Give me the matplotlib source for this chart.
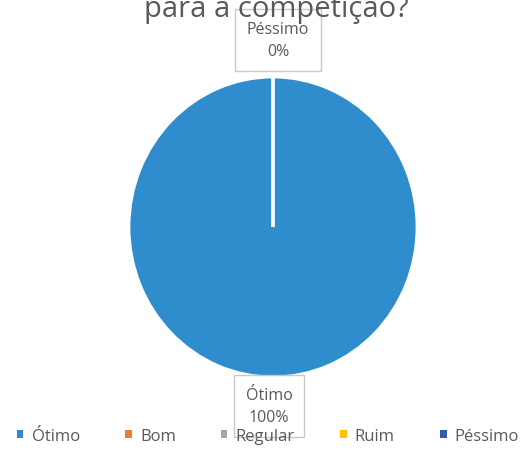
import matplotlib
matplotlib.use("Agg")
import matplotlib.pyplot as plt
from matplotlib.patches import Patch

categories = ["Ótimo", "Bom", "Regular", "Ruim", "Péssimo"]
values = [100, 0, 0, 0, 0]
colors = ["#2f8dcd", "#ed7d31", "#a5a5a5", "#ffc000", "#2f5fa8"]
title = "para a competição?"

plt.rcParams['font.family'] = ['Open Sans', 'DejaVu Sans']
W, H = 531, 464
fig = plt.figure(figsize=(W / 100, H / 100), dpi=100)
fig.patch.set_facecolor("white")

cx, cy, rx, ry = 273, 228, 144, 150
ax = fig.add_axes([(cx - rx) / W, (H - cy - ry) / H, 2 * rx / W, 2 * ry / H])
wedges, _ = ax.pie(values, colors=colors, startangle=90, counterclock=False,
                   radius=1, wedgeprops=dict(edgecolor="white", linewidth=2))
ax.set_xlim(-1, 1)
ax.set_ylim(-1, 1)
ax.set_aspect("auto")
ax.axis("off")

total = sum(values)
box = dict(boxstyle="square,pad=0.75", facecolor="white", edgecolor="#c8c8c8", linewidth=1)
# Péssimo label (top)
fig.text(278 / W, 1 - 41 / H, f"{categories[4]}\n{values[4] / total * 100:.0f}%",
         ha="center", va="center", fontsize=11.5, color="#595959",
         linespacing=1.55, bbox=box)
# Ótimo label (bottom)
fig.text(269 / W, 1 - 407 / H, f"{categories[0]}\n{values[0] / total * 100:.0f}%",
         ha="center", va="center", fontsize=11.5, color="#595959",
         linespacing=1.55, bbox=box)

fig.text(276 / W, 1 - 10 / H, title, ha="center", va="center",
         fontsize=21, color="#595959")

handles = [Patch(facecolor=c, edgecolor="none") for c in colors]
fig.legend(handles, categories, loc="center", bbox_to_anchor=(268 / W, 1 - 437 / H),
           ncol=5, frameon=False, fontsize=12, handlelength=0.4, handleheight=0.4,
           handletextpad=0.5, columnspacing=2.7, labelcolor="#595959")

fig.savefig("out.png", dpi=100, facecolor="white")
